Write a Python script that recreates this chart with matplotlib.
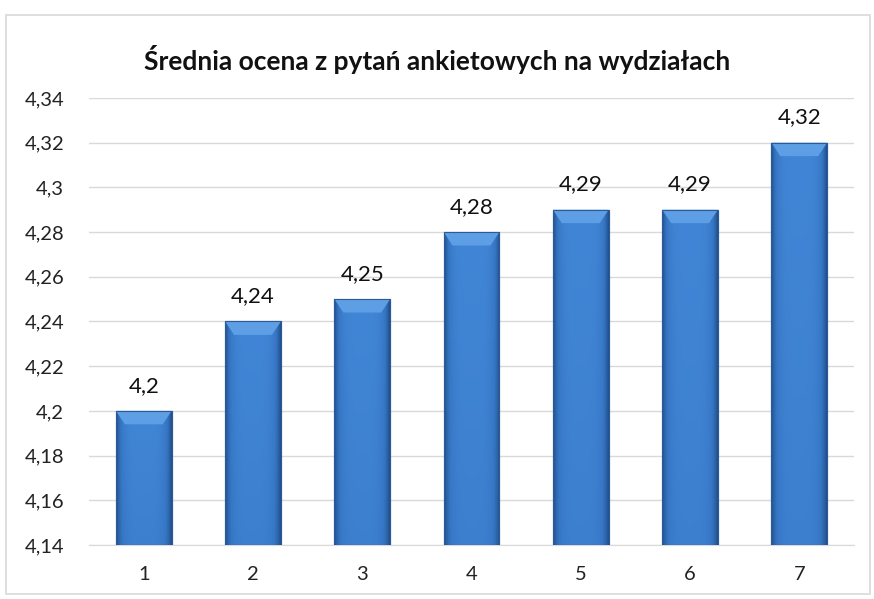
import matplotlib
matplotlib.use("Agg")
import matplotlib.pyplot as plt
import numpy as np
from matplotlib.colors import LinearSegmentedColormap
from matplotlib.patches import Polygon, Rectangle
from matplotlib.ticker import FuncFormatter, MultipleLocator

categories = ["1", "2", "3", "4", "5", "6", "7"]
values = [4.20, 4.24, 4.25, 4.28, 4.29, 4.29, 4.32]
labels = ["4,2", "4,24", "4,25", "4,28", "4,29", "4,29", "4,32"]
title = "Średnia ocena z pytań ankietowych na wydziałach"
ymin, ymax, ystep = 4.14, 4.34, 0.02

plt.rcParams['font.family'] = ['Lato', 'DejaVu Sans']

fig = plt.figure(figsize=(8.74, 5.99), dpi=100)
fig.patches.append(Rectangle((0.007, 0.008), 0.988, 0.967, transform=fig.transFigure,
                             fill=False, edgecolor='#d9d9d9', linewidth=1.2))
ax = fig.add_axes([0.102, 0.0902, 0.875, 0.7462])
x = np.arange(len(categories))
bars = ax.bar(x, [v - ymin for v in values], bottom=ymin, width=0.51,
              color='#3B78C6', edgecolor='#2B5C9C', linewidth=0.8, zorder=3)
ax.set_xlim(-0.5, len(categories) - 0.5)
ax.set_ylim(ymin, ymax)

xs = np.linspace(0, 1, 64)
ys = np.linspace(0, 1, 64)
hx = np.abs(xs - 0.5) * 2
grad = np.tile(1 - hx ** 4, (64, 1)) * (0.8 + 0.2 * ys[:, None])
gcmap = LinearSegmentedColormap.from_list('g', ['#23508C', '#3676C4', '#4186D6'])
for b in bars:
    bx, by, bw, bh = b.get_x(), b.get_y(), b.get_width(), b.get_height()
    im = ax.imshow(grad, extent=(bx, bx + bw, by, by + bh), origin='lower',
                   cmap=gcmap, vmin=0, vmax=1,
                   aspect='auto', zorder=3.5, interpolation='bilinear')
    im.set_clip_path(b)
    bev = (ymax - ymin) * 0.03
    dx = bw * 0.16
    ax.add_patch(Polygon([(bx, by + bh), (bx + bw, by + bh), (bx + bw - dx, by + bh - bev),
                          (bx + dx, by + bh - bev)], closed=True, facecolor='#5E9EE4',
                         edgecolor='none', zorder=4))
    ax.add_patch(Rectangle((bx, by), bw, bh, fill=False, edgecolor='#2A5A98', linewidth=0.8, zorder=4.5))

for xi, v, lab in zip(x, values, labels):
    ax.annotate(lab, (xi, v), xytext=(0, 11), textcoords='offset points', ha='center', va='bottom',
                fontsize=16, color='#111111')

ax.yaxis.set_major_locator(MultipleLocator(ystep))
ax.yaxis.set_major_formatter(FuncFormatter(lambda v, p: f"{v:.2f}".rstrip('0').rstrip('.').replace('.', ',')))
ax.set_xticks(x)
ax.set_xticklabels(categories)
ax.tick_params(axis='both', length=0, labelsize=14.5, colors='#222222')
ax.tick_params(axis='x', pad=15)
ax.tick_params(axis='y', pad=18)
ax.grid(axis='y', color='#d9d9d9', linewidth=1.0, zorder=0)
for s in ['top', 'right', 'left']:
    ax.spines[s].set_visible(False)
ax.spines['bottom'].set_color('#d9d9d9')
ax.set_axisbelow(True)

fig.text(0.5, 0.9, title, ha='center', va='center', fontsize=19, fontweight='bold', color='#111111')

fig.savefig('out.png', dpi=100)
